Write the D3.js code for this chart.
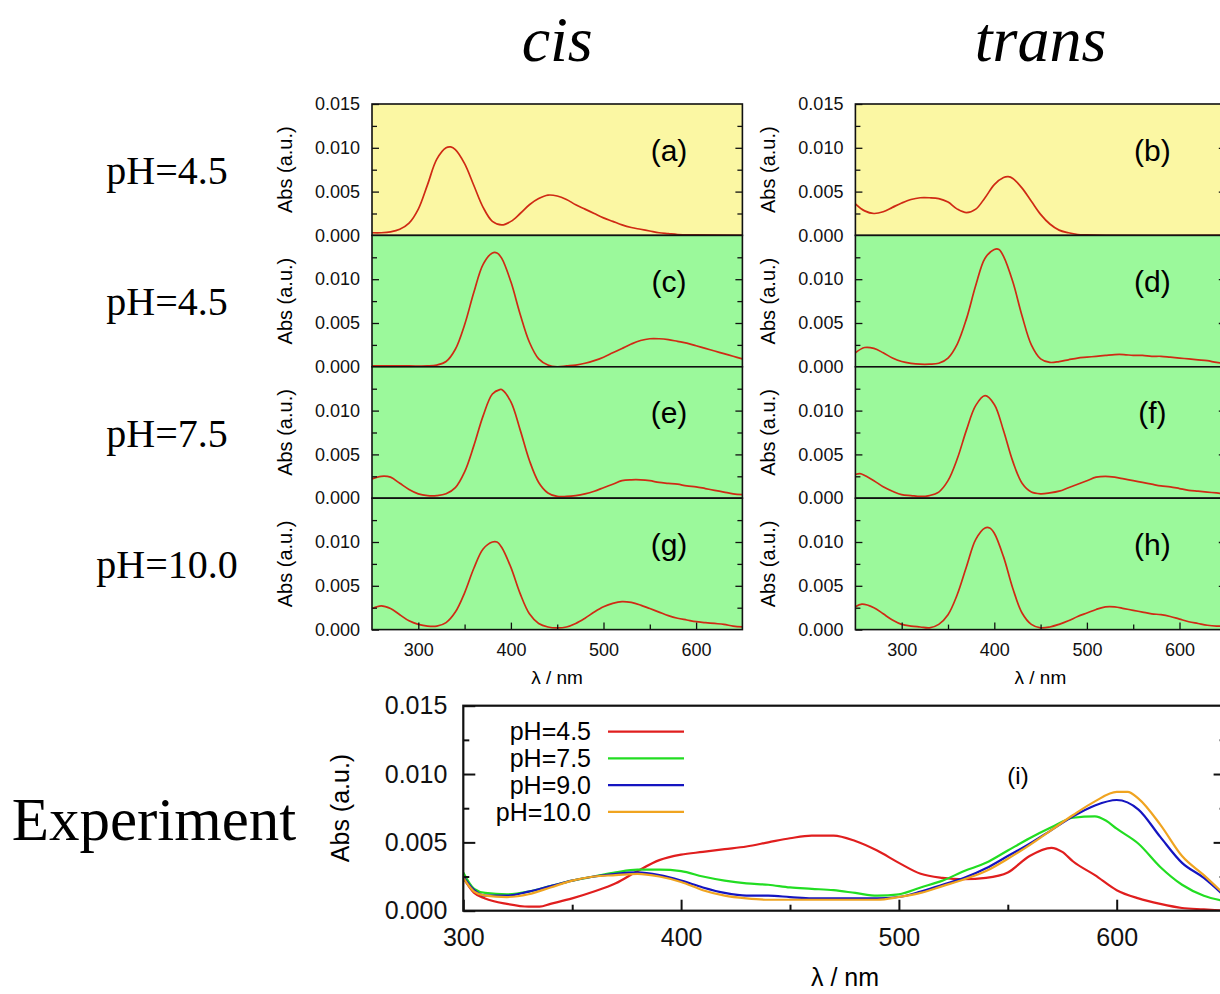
<!DOCTYPE html>
<html>
<head>
<meta charset="utf-8">
<script src="https://cdn.jsdelivr.net/npm/d3@7"></script>
<style>
  body { margin: 0; background: #fff; }
  svg { display: block; }
</style>
</head>
<body>
<div id="chart"></div>
<script>
// ---- calculated spectra, [wavelength nm, absorbance] ----
const specA = [[250,0.0003],[260,0.0003],[270,0.0004],[280,0.0007],[290,0.0014],[300,0.0030],[310,0.0058],[320,0.0087],[330,0.0100],[335,0.0101],[340,0.0098],[350,0.0082],[360,0.0057],[370,0.0032],[380,0.0016],[390,0.0012],[400,0.0016],[410,0.0025],[420,0.0035],[430,0.0042],[440,0.0046],[450,0.0045],[460,0.0041],[470,0.0035],[480,0.0030],[490,0.0025],[500,0.0020],[510,0.0016],[520,0.0012],[530,0.0009],[540,0.0007],[550,0.0005],[560,0.0003],[570,0.0002],[580,0.0001],[600,0.00005],[650,0]]
const specB = [[250,0.0036],[260,0.0028],[270,0.0025],[280,0.0027],[290,0.0032],[300,0.0037],[310,0.0041],[320,0.0043],[330,0.0043],[340,0.0042],[350,0.0038],[360,0.0030],[370,0.0026],[380,0.0030],[390,0.0043],[400,0.0058],[410,0.0066],[415,0.0067],[420,0.0065],[430,0.0054],[440,0.0039],[450,0.0024],[460,0.0013],[470,0.0006],[480,0.0003],[490,0.0001],[500,0.00005],[520,0],[650,0]]
const specC = [[250,0.0001],[270,0.0001],[290,0.0001],[310,0.0001],[320,0.0002],[330,0.0006],[340,0.0020],[350,0.0048],[360,0.0085],[370,0.0117],[380,0.0130],[385,0.0130],[390,0.0124],[400,0.0097],[410,0.0060],[420,0.0028],[430,0.0009],[440,0.0002],[450,0.0000],[460,0.0001],[470,0.0002],[480,0.0004],[490,0.0007],[500,0.0011],[510,0.0016],[520,0.0021],[530,0.0026],[540,0.0030],[550,0.0032],[560,0.0032],[570,0.0031],[580,0.0029],[590,0.0027],[600,0.0024],[610,0.0021],[620,0.0018],[630,0.0015],[640,0.0012],[650,0.0009]]
const specD = [[250,0.0016],[260,0.0022],[270,0.0021],[280,0.0016],[290,0.0010],[300,0.0006],[310,0.0004],[320,0.0003],[330,0.0003],[340,0.0004],[350,0.0010],[360,0.0026],[370,0.0055],[380,0.0093],[390,0.0124],[400,0.0134],[405,0.0134],[410,0.0126],[420,0.0097],[430,0.0058],[440,0.0025],[450,0.0009],[460,0.0005],[470,0.0006],[480,0.0008],[490,0.0010],[500,0.0011],[510,0.0012],[520,0.0013],[530,0.0014],[540,0.0014],[550,0.0013],[560,0.0013],[570,0.0012],[580,0.0012],[590,0.0011],[600,0.0010],[610,0.0009],[620,0.0008],[630,0.0007],[640,0.0005],[650,0.0004]]
const specE = [[250,0.0022],[260,0.0025],[270,0.0024],[280,0.0017],[290,0.0010],[300,0.0005],[310,0.0003],[320,0.0003],[330,0.0005],[340,0.0012],[350,0.0030],[360,0.0060],[370,0.0094],[380,0.0119],[388,0.0124],[390,0.0124],[400,0.0110],[410,0.0078],[420,0.0043],[430,0.0018],[440,0.0006],[450,0.0002],[460,0.0002],[470,0.0003],[480,0.0005],[490,0.0008],[500,0.0012],[510,0.0016],[520,0.0020],[530,0.0021],[540,0.0021],[550,0.0020],[560,0.0018],[570,0.0017],[580,0.0016],[590,0.0014],[600,0.0013],[610,0.0011],[620,0.0009],[630,0.0007],[640,0.0005],[650,0.0004]]
const specF = [[250,0.0027],[255,0.0028],[260,0.0026],[270,0.0020],[280,0.0013],[290,0.0008],[300,0.0004],[310,0.0003],[320,0.0002],[330,0.0003],[340,0.0007],[350,0.0020],[360,0.0045],[370,0.0078],[380,0.0106],[390,0.0117],[400,0.0107],[410,0.0077],[420,0.0042],[430,0.0017],[440,0.0007],[450,0.0005],[460,0.0006],[470,0.0008],[480,0.0012],[490,0.0016],[500,0.0020],[510,0.0024],[520,0.0025],[530,0.0024],[540,0.0022],[550,0.0020],[560,0.0018],[570,0.0016],[580,0.0014],[590,0.0013],[600,0.0011],[610,0.0009],[620,0.0008],[630,0.0007],[640,0.0006],[650,0.0005]]
const specG = [[250,0.0024],[260,0.0027],[270,0.0024],[280,0.0017],[290,0.0010],[300,0.0006],[310,0.0004],[320,0.0004],[330,0.0008],[340,0.0020],[350,0.0042],[360,0.0070],[370,0.0092],[380,0.0100],[385,0.0100],[390,0.0094],[400,0.0071],[410,0.0041],[420,0.0018],[430,0.0007],[440,0.0003],[450,0.0002],[460,0.0003],[470,0.0007],[480,0.0013],[490,0.0020],[500,0.0026],[510,0.0030],[520,0.0032],[530,0.0031],[540,0.0028],[550,0.0024],[560,0.0020],[570,0.0016],[580,0.0013],[590,0.0011],[600,0.0009],[610,0.0008],[620,0.0007],[630,0.0006],[640,0.0004],[650,0.0003]]
const specH = [[250,0.0026],[257,0.0029],[270,0.0025],[280,0.0018],[290,0.0011],[300,0.0006],[310,0.0004],[320,0.0003],[330,0.0002],[340,0.0006],[350,0.0017],[360,0.0040],[370,0.0072],[380,0.0103],[390,0.0116],[395,0.0116],[400,0.0110],[410,0.0083],[420,0.0047],[430,0.0019],[440,0.0006],[450,0.0002],[460,0.0003],[470,0.0006],[480,0.0010],[490,0.0015],[500,0.0019],[510,0.0023],[520,0.0026],[530,0.0026],[540,0.0024],[550,0.0022],[560,0.0020],[570,0.0018],[580,0.0017],[590,0.0015],[600,0.0012],[610,0.0009],[620,0.0007],[630,0.0005],[640,0.0004],[650,0.0004]]

// ---- experiment, [wavelength nm, absorbance] ----
const exp45 = [[300,0.0024],[305,0.0013],[310,0.0009],[320,0.0005],[330,0.0003],[335,0.0003],[340,0.0005],[350,0.0009],[360,0.0014],[370,0.0020],[380,0.0029],[390,0.0037],[400,0.0041],[410,0.0043],[420,0.0045],[430,0.0047],[440,0.0050],[450,0.0053],[460,0.0055],[470,0.0055],[480,0.0051],[490,0.0044],[500,0.0035],[510,0.0027],[520,0.0024],[530,0.0023],[540,0.0024],[550,0.0028],[560,0.0040],[570,0.0046],[575,0.0043],[580,0.0036],[590,0.0026],[600,0.0015],[610,0.0009],[620,0.0005],[630,0.0002],[640,0.0001],[650,0.0000]]
const exp75 = [[300,0.0028],[305,0.0016],[310,0.0013],[320,0.0012],[330,0.0014],[340,0.0018],[350,0.0022],[360,0.0025],[370,0.0028],[380,0.0030],[390,0.0030],[400,0.0029],[410,0.0025],[420,0.0022],[430,0.0020],[440,0.0019],[450,0.0017],[460,0.0016],[470,0.0015],[480,0.0013],[490,0.0011],[500,0.0012],[510,0.0017],[520,0.0022],[530,0.0029],[540,0.0035],[550,0.0044],[560,0.0053],[570,0.0061],[580,0.0068],[590,0.0069],[595,0.0066],[600,0.0060],[610,0.0049],[620,0.0032],[630,0.0019],[640,0.0011],[650,0.0007]]
const exp90 = [[300,0.0025],[305,0.0015],[310,0.0011],[320,0.0011],[330,0.0014],[340,0.0018],[350,0.0022],[360,0.0025],[370,0.0027],[380,0.0028],[390,0.0026],[400,0.0022],[410,0.0017],[420,0.0013],[430,0.0011],[440,0.0011],[450,0.0010],[460,0.0009],[470,0.0009],[480,0.0009],[490,0.0009],[500,0.0010],[510,0.0014],[520,0.0019],[530,0.0024],[540,0.0031],[550,0.0040],[560,0.0049],[570,0.0059],[580,0.0069],[590,0.0077],[600,0.0081],[610,0.0074],[620,0.0054],[630,0.0035],[640,0.0024],[650,0.0010]]
const exp100 = [[300,0.0024],[305,0.0014],[310,0.0011],[320,0.0010],[330,0.0012],[340,0.0017],[350,0.0022],[360,0.0025],[370,0.0026],[380,0.0027],[390,0.0025],[400,0.0021],[410,0.0015],[420,0.0011],[430,0.0009],[440,0.0008],[450,0.0008],[460,0.0008],[470,0.0008],[480,0.0008],[490,0.0008],[500,0.0010],[510,0.0013],[520,0.0018],[530,0.0023],[540,0.0029],[550,0.0038],[560,0.0048],[570,0.0059],[580,0.0070],[590,0.0080],[600,0.0087],[605,0.0087],[610,0.0082],[620,0.0063],[630,0.0040],[640,0.0026],[650,0.0011]]

const colTitles = ["cis", "trans"]
const rowLabels = ["pH=4.5", "pH=4.5", "pH=7.5", "pH=10.0"]
const panelLetters = [["(a)", "(c)", "(e)", "(g)"], ["(b)", "(d)", "(f)", "(h)"]]
const columnSpectra = [[specA, specC, specE, specG], [specB, specD, specF, specH]]
const expLabels = ["pH=4.5", "pH=7.5", "pH=9.0", "pH=10.0"]
const expSeries = [exp45, exp75, exp90, exp100]
const yMajor = [0, 0.005, 0.010, 0.015]
const yMinor = [0.0025, 0.0075, 0.0125]
const xMajor = [300, 400, 500, 600]
const xMinor = [350, 450, 550, 650]

const W = 1220, H = 994
const sans = "'Liberation Sans', Arial, sans-serif"
const serif = "'Liberation Serif', 'Times New Roman', serif"

let svg = d3.select("#chart").append("svg")
    .attr("width", W).attr("height", H)
    .style("font-family", sans)

// ---------- upper grid of calculated spectra ----------
let colLeft = [372, 855.4]
let colWidth = 370.4
let panelTop = 104
let panelH = 131.4
let rowFill = ["#fbf7a3", "#9bf99b", "#9bf99b", "#9bf99b"]

function styleAxis(g, size){
    g.select(".domain").remove()
    g.selectAll("line").attr("stroke", "#111").attr("stroke-width", 1.3)
    g.selectAll("text").style("font-size", size + "px").style("font-family", sans).attr("fill", "#111")
}

colTitles.forEach(function(title, c){
    let x = d3.scaleLinear().domain([250, 650]).range([colLeft[c], colLeft[c] + colWidth])
    svg.append("text")
        .attr("x", colLeft[c] + colWidth / 2)
        .attr("y", 61)
        .attr("text-anchor", "middle")
        .style("font-family", serif).style("font-style", "italic").style("font-size", "64px")
        .text(title)

    for (let r = 0; r < 4; r++){
        let top = panelTop + r * panelH
        let y = d3.scaleLinear().domain([0, 0.015]).range([top + panelH, top])
        let g = svg.append("g")

        g.append("rect")
            .attr("x", x.range()[0]).attr("y", top)
            .attr("width", colWidth).attr("height", panelH)
            .attr("fill", rowFill[r])

        let clipId = "clip" + c + r
        g.append("clipPath").attr("id", clipId).append("rect")
            .attr("x", x.range()[0]).attr("y", top)
            .attr("width", colWidth).attr("height", panelH)

        let line = d3.line()
            .x(d => x(d[0]))
            .y(d => y(d[1]))
            .curve(d3.curveCatmullRom.alpha(0.5))
        g.append("path")
            .datum(columnSpectra[c][r])
            .attr("clip-path", "url(#" + clipId + ")")
            .attr("d", line)
            .attr("fill", "none")
            .attr("stroke", "#cf2a14")
            .attr("stroke-width", 1.7)

        // y ticks, inward on both sides
        let labVals = r === 0 ? yMajor : yMajor.slice(0, 3)
        let la = g.append("g").attr("transform", "translate(" + x.range()[0] + ",0)")
            .call(d3.axisLeft(y).tickValues(labVals).tickSize(-7).tickPadding(12).tickFormat(d3.format(".3f")))
        styleAxis(la, 18)
        let lm = g.append("g").attr("transform", "translate(" + x.range()[0] + ",0)")
            .call(d3.axisLeft(y).tickValues(yMinor).tickSize(-5).tickFormat(""))
        styleAxis(lm, 18)
        let ra = g.append("g").attr("transform", "translate(" + x.range()[1] + ",0)")
            .call(d3.axisRight(y).tickValues(yMajor.slice(1, 3)).tickSize(-7).tickFormat(""))
        styleAxis(ra, 18)
        let rm = g.append("g").attr("transform", "translate(" + x.range()[1] + ",0)")
            .call(d3.axisRight(y).tickValues(yMinor).tickSize(-5).tickFormat(""))
        styleAxis(rm, 18)

        if (r === 3){
            let bx = g.append("g").attr("transform", "translate(0," + (top + panelH) + ")")
                .call(d3.axisBottom(x).tickValues(xMajor).tickSize(-7).tickPadding(14))
            styleAxis(bx, 18)
            let bm = g.append("g").attr("transform", "translate(0," + (top + panelH) + ")")
                .call(d3.axisBottom(x).tickValues(xMinor.slice(0, 3)).tickSize(-5).tickFormat(""))
            styleAxis(bm, 18)
        }

        g.append("rect")
            .attr("x", x.range()[0]).attr("y", top)
            .attr("width", colWidth).attr("height", panelH)
            .attr("fill", "none").attr("stroke", "#111").attr("stroke-width", 1.6)

        g.append("text")
            .attr("x", x.range()[0] + 297).attr("y", top + 46)
            .attr("text-anchor", "middle").attr("dy", "0.35em")
            .style("font-size", "30px")
            .text(panelLetters[c][r])

        g.append("text")
            .attr("transform", "translate(" + (x.range()[0] - 87) + "," + (top + panelH / 2) + ")rotate(-90)")
            .attr("text-anchor", "middle").attr("dy", "0.35em")
            .style("font-size", "20px")
            .text("Abs (a.u.)")
    }

    svg.append("text")
        .attr("x", colLeft[c] + 185).attr("y", 677)
        .attr("text-anchor", "middle").attr("dy", "0.35em")
        .style("font-size", "19px")
        .text("λ / nm")
})

rowLabels.forEach(function(lab, r){
    svg.append("text")
        .attr("x", 167).attr("y", panelTop + r * panelH + 80)
        .attr("text-anchor", "middle")
        .style("font-family", serif).style("font-size", "40px")
        .text(lab)
})

// ---------- experiment ----------
let ex = d3.scaleLinear().domain([300, 650]).range([463.3, 1225.6])
let ey = d3.scaleLinear().domain([0, 0.015]).range([910.7, 705.7])
let expColors = ["#e01e1e", "#22dd22", "#1515c0", "#f0a420"]
let eg = svg.append("g")

svg.append("text")
    .attr("x", 154).attr("y", 840)
    .attr("text-anchor", "middle")
    .style("font-family", serif).style("font-size", "61px")
    .text("Experiment")

let eline = d3.line().x(d => ex(d[0])).y(d => ey(d[1])).curve(d3.curveMonotoneX)
eg.append("clipPath").attr("id", "expclip").append("rect")
    .attr("x", 463.3).attr("y", 705.7).attr("width", 762.3).attr("height", 205)
expSeries.forEach(function(s, i){
    eg.append("path").datum(s)
        .attr("clip-path", "url(#expclip)")
        .attr("d", eline)
        .attr("fill", "none")
        .attr("stroke", expColors[i])
        .attr("stroke-width", 2.2)
})

let ela = eg.append("g").attr("transform", "translate(463.3,0)")
    .call(d3.axisLeft(ey).tickValues(yMajor).tickSize(-12).tickPadding(16).tickFormat(d3.format(".3f")))
styleAxis(ela, 25)
let elm = eg.append("g").attr("transform", "translate(463.3,0)")
    .call(d3.axisLeft(ey).tickValues(yMinor).tickSize(-6).tickFormat(""))
styleAxis(elm, 25)
let era = eg.append("g").attr("transform", "translate(1225.6,0)")
    .call(d3.axisRight(ey).tickValues(yMajor.slice(1, 3)).tickSize(-12).tickFormat(""))
styleAxis(era, 25)
let erm = eg.append("g").attr("transform", "translate(1225.6,0)")
    .call(d3.axisRight(ey).tickValues(yMinor).tickSize(-6).tickFormat(""))
styleAxis(erm, 25)
let ebx = eg.append("g").attr("transform", "translate(0,910.7)")
    .call(d3.axisBottom(ex).tickValues(xMajor).tickSize(-11).tickPadding(18))
styleAxis(ebx, 25)
let ebm = eg.append("g").attr("transform", "translate(0,910.7)")
    .call(d3.axisBottom(ex).tickValues(xMinor).tickSize(-6).tickFormat(""))
styleAxis(ebm, 25)
eg.selectAll("line").attr("stroke-width", 2)

eg.append("rect")
    .attr("x", 463.3).attr("y", 705.7).attr("width", 762.3).attr("height", 205)
    .attr("fill", "none").attr("stroke", "#111").attr("stroke-width", 2.2)

eg.append("text")
    .attr("transform", "translate(340,808)rotate(-90)")
    .attr("text-anchor", "middle").attr("dy", "0.35em")
    .style("font-size", "25px")
    .text("Abs (a.u.)")
eg.append("text")
    .attr("x", 845).attr("y", 977)
    .attr("text-anchor", "middle").attr("dy", "0.35em")
    .style("font-size", "25px")
    .text("λ / nm")
eg.append("text")
    .attr("x", 1018).attr("y", 776)
    .attr("text-anchor", "middle").attr("dy", "0.35em")
    .style("font-size", "24px")
    .text("(i)")

// legend
expLabels.forEach(function(lab, i){
    let ly = 731.7 + i * 26.7
    eg.append("text")
        .attr("x", 591).attr("y", ly)
        .attr("text-anchor", "end").attr("dy", "0.35em")
        .style("font-size", "25px")
        .text(lab)
    eg.append("line")
        .attr("x1", 608).attr("x2", 684)
        .attr("y1", ly).attr("y2", ly)
        .attr("stroke", expColors[i]).attr("stroke-width", 2.2)
})
</script>
</body>
</html>
